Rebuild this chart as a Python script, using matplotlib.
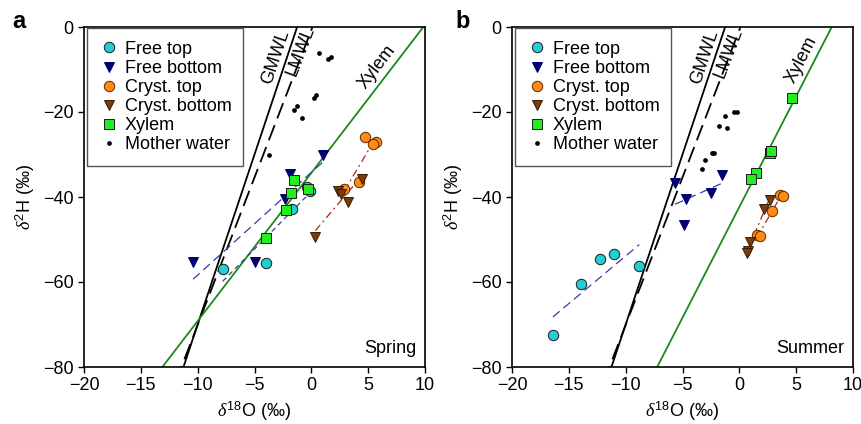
import numpy as np
import matplotlib.pyplot as plt

plt.rcParams['font.family'] = ['Liberation Sans', 'DejaVu Sans']
plt.rcParams['mathtext.fontset'] = 'custom'
plt.rcParams['mathtext.rm'] = 'Liberation Sans'
plt.rcParams['mathtext.it'] = 'Liberation Serif:italic'

# ── Spring (panel a) ─────────────────────────────────────────
a_free_top_x = [-7.8, -4.0, -1.7, -0.4, -0.1]
a_free_top_y = [-57.0, -55.5, -42.8, -37.6, -38.5]
a_free_bot_x = [-10.4, -5.0, -2.3, -1.9, 1.0]
a_free_bot_y = [-55.4, -55.4, -40.5, -34.6, -30.1]
a_cryst_top_x = [4.7, 5.7, 5.45, 4.15, 2.9]
a_cryst_top_y = [-25.8, -27.0, -27.5, -36.5, -38.2]
a_cryst_bot_x = [4.5, 2.35, 2.6, 3.2, 0.35]
a_cryst_bot_y = [-35.7, -38.7, -39.3, -41.1, -49.5]
a_xylem_x = [-1.55, -1.8, -2.25, -0.25, -4.0]
a_xylem_y = [-36.0, -39.1, -43.1, -38.1, -49.7]
a_mother_x = [-3.7, 0.7, 1.5, 1.7, 0.2, 0.4, -1.5, -1.25, -0.85]
a_mother_y = [-30.0, -6.0, -7.6, -7.1, -16.6, -16.0, -19.5, -18.7, -21.5]

# ── Summer (panel b) ─────────────────────────────────────────
b_free_top_x = [-16.4, -13.9, -12.3, -11.0, -8.8]
b_free_top_y = [-72.5, -60.5, -54.6, -53.3, -56.3]
b_free_bot_x = [-5.65, -4.65, -2.5, -1.5, -4.9]
b_free_bot_y = [-36.8, -40.5, -39.0, -34.9, -46.5]
b_cryst_top_x = [3.55, 3.8, 2.9, 1.55, 1.8]
b_cryst_top_y = [-39.5, -39.7, -43.2, -49.0, -49.1]
b_cryst_bot_x = [2.7, 2.15, 0.9, 0.75, 0.7]
b_cryst_bot_y = [-40.7, -42.9, -50.7, -52.6, -53.1]
b_xylem_x = [4.65, 2.7, 2.8, 1.5, 1.0]
b_xylem_y = [-16.8, -29.6, -29.2, -34.4, -35.8]
b_mother_x = [-3.25, -3.0, -2.4, -2.2, -1.8, -1.1, -1.25, -0.5, -0.2]
b_mother_y = [-33.3, -31.3, -29.7, -29.7, -23.3, -23.7, -21.0, -19.9, -19.9]

# meteoric water lines (slope, intercept)
gmwl = (8.0, 10.0)
lmwl = (6.94, -0.7)

labels = ["Free top", "Free bottom", "Cryst. top", "Cryst. bottom", "Xylem", "Mother water"]
c_cyan = "#21d0d6"
c_navy = "#000070"
c_orange = "#ff8a14"
c_brown = "#7a3c08"
c_lime = "#22ee22"
c_xyline = "#1a8a1a"
c_fitblue = "#3a3aa8"
c_fitred = "#a02a1a"

FS = 13

panels = [
    ("a", "Spring", (a_free_top_x, a_free_top_y), (a_free_bot_x, a_free_bot_y),
     (a_cryst_top_x, a_cryst_top_y), (a_cryst_bot_x, a_cryst_bot_y),
     (a_xylem_x, a_xylem_y), (a_mother_x, a_mother_y),
     (-3.1, -7.0), (-0.95, -5.6), (5.8, -9.3)),
    ("b", "Summer", (b_free_top_x, b_free_top_y), (b_free_bot_x, b_free_bot_y),
     (b_cryst_top_x, b_cryst_top_y), (b_cryst_bot_x, b_cryst_bot_y),
     (b_xylem_x, b_xylem_y), (b_mother_x, b_mother_y),
     (-3.05, -7.0), (-0.9, -6.2), (5.5, -7.8)),
]

fig = plt.figure(figsize=(8.61, 4.24), dpi=100)
lefts = [84 / 861, 512 / 861]
W, H = 341 / 861, 340 / 424
B = 1 - 367 / 424


def fit_line(ax, xs, ys, **kw):
    k, b = np.polyfit(xs, ys, 1)
    xx = np.array([min(xs), max(xs)])
    ax.plot(xx, k * xx + b, **kw)


for left, p in zip(lefts, panels):
    tag, season, ft, fb, ct, cb, xy, mw, pos_g, pos_l, pos_x = p
    ax = fig.add_axes([left, B, W, H])
    ax.set_xlim(-20, 10)
    ax.set_ylim(-80, 0)
    xx = np.array([-20.0, 10.0])

    # meteoric lines + xylem line
    ax.plot(xx, gmwl[0] * xx + gmwl[1], color="black", lw=1.3, zorder=2)
    ax.plot(xx, lmwl[0] * xx + lmwl[1], color="black", lw=1.3, dashes=(9, 4), zorder=2)
    kx, bx = np.polyfit(xy[0], xy[1], 1)
    ax.plot(xx, kx * xx + bx, color=c_xyline, lw=1.3, zorder=2)

    # regressions
    fit_line(ax, ft[0], ft[1], color=c_fitblue, lw=0.9, dashes=(4, 3) if tag == "a" else (7, 4))
    fit_line(ax, fb[0], fb[1], color=c_fitblue, lw=0.9, dashes=(7, 4))
    fit_line(ax, ct[0], ct[1], color=c_fitred, lw=0.9, dashes=(6, 3, 1.5, 3))
    fit_line(ax, cb[0], cb[1], color=c_fitred, lw=0.9, dashes=(6, 3, 1.5, 3))

    # points
    ax.plot(ft[0], ft[1], "o", ms=7.5, mfc=c_cyan, mec="#1a1a1a", mew=0.7, ls="none", label=labels[0], zorder=4)
    ax.plot(fb[0], fb[1], "v", ms=7.5, mfc=c_navy, mec=c_navy, mew=0.7, ls="none", label=labels[1], zorder=4)
    ax.plot(ct[0], ct[1], "o", ms=7.5, mfc=c_orange, mec="#5a2a00", mew=0.7, ls="none", label=labels[2], zorder=4)
    ax.plot(cb[0], cb[1], "v", ms=7.5, mfc=c_brown, mec="#3a1a00", mew=0.7, ls="none", label=labels[3], zorder=4)
    ax.plot(xy[0], xy[1], "s", ms=6.5, mfc=c_lime, mec="#1a1a1a", mew=0.7, ls="none", label=labels[4], zorder=4)
    ax.plot(mw[0], mw[1], "o", ms=2.4, mfc="black", mec="black", ls="none", label=labels[5], zorder=4)

    # line labels rotated along their lines
    kw = dict(fontsize=FS, ha="center", va="center", rotation_mode="anchor",
              transform_rotates_text=True)
    ax.text(*pos_g, "GMWL", rotation=np.degrees(np.arctan(gmwl[0])), **kw)
    ax.text(*pos_l, "LMWL", rotation=np.degrees(np.arctan(lmwl[0])), **kw)
    ax.text(*pos_x, "Xylem", rotation=np.degrees(np.arctan(kx)), **kw)

    ax.text(0.975, 0.03, season, transform=ax.transAxes, ha="right", va="bottom", fontsize=FS)

    leg = ax.legend(loc="upper left", bbox_to_anchor=(0.009, 0.997, 0.458, 0), mode="expand",
                    borderaxespad=0, fontsize=FS, fancybox=False, framealpha=1,
                    handlelength=1.0, handletextpad=0.4, labelspacing=0.12, borderpad=0.7)
    leg.get_frame().set_edgecolor("#555555")
    leg.get_frame().set_linewidth(1.0)

    ax.set_xticks(np.arange(-20, 11, 5))
    ax.set_yticks(np.arange(-80, 1, 20))
    ax.tick_params(direction="out", length=4, labelsize=FS, width=1)
    for s in ax.spines.values():
        s.set_linewidth(1.2)
    ax.set_xlabel(r"$\delta^{18}$O (‰)", fontsize=FS, labelpad=4)
    ax.set_ylabel(r"$\delta^{2}$H (‰)", fontsize=FS, labelpad=4)

    fig.text(left - 72 / 861 if tag == "a" else left - 57 / 861, 1 - 21 / 424, tag,
             fontsize=17, fontweight="bold", va="center", ha="left")

fig.savefig("out.png", dpi=100)
